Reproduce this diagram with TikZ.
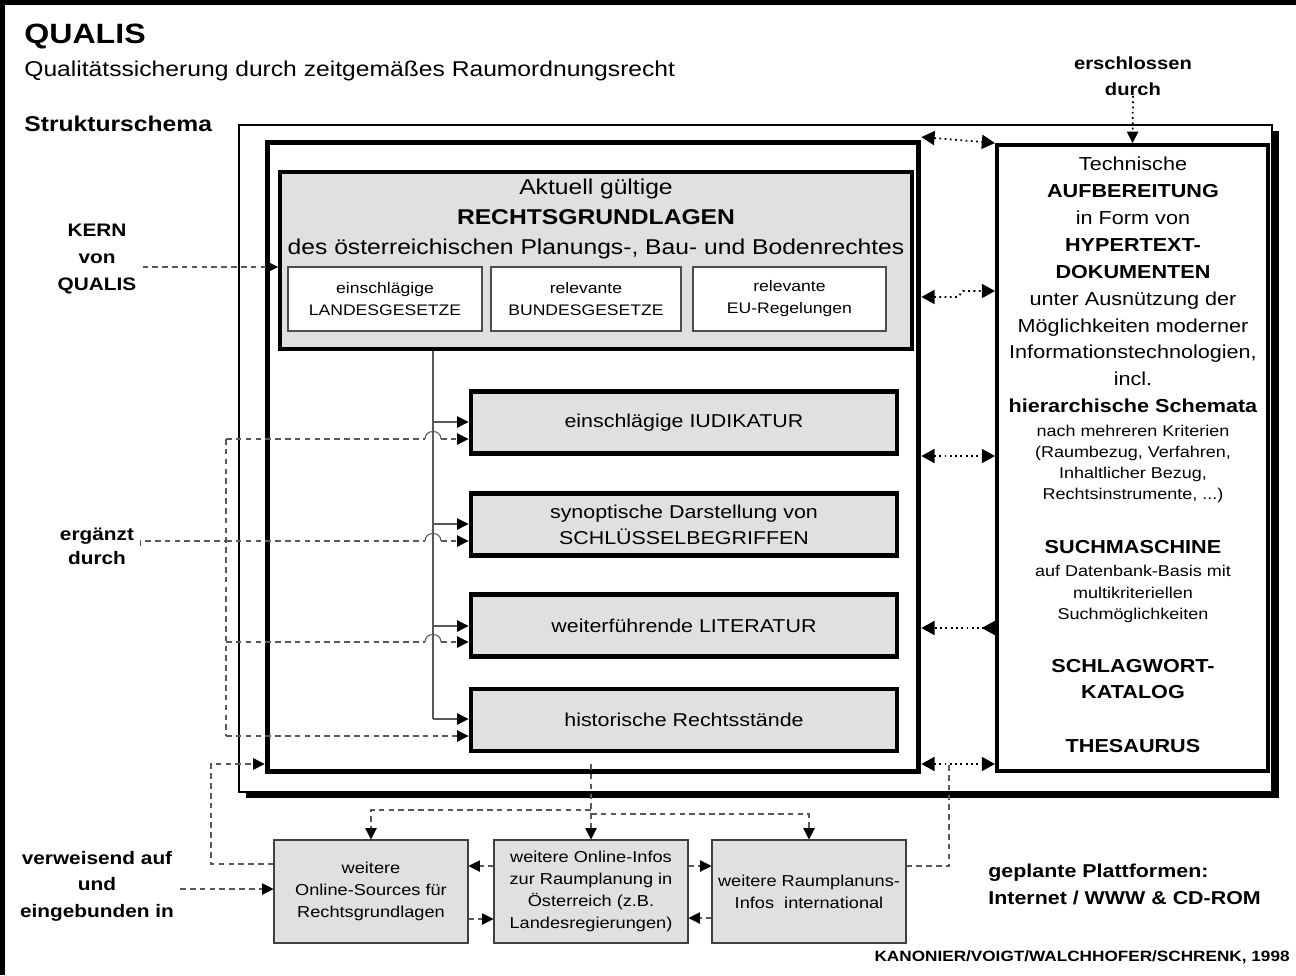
\documentclass[tikz,border=0pt]{standalone}
\usepackage{fontspec}
\setmainfont{Liberation Sans}[FakeStretch=1.15]
\usetikzlibrary{arrows.meta,shadows}
\newcommand\fnt[2]{\fontsize{#1}{#2}\selectfont}

\begin{document}
\begin{tikzpicture}[x=0.02cm,y=-0.02cm,
	pf/.style={-{Triangle[length=6.5pt,width=6.5pt,color=black]}},
	dpf/.style={{Triangle[length=7.5pt,width=8pt,color=black]}-{Triangle[length=7.5pt,width=8pt,color=black]}},
	dsh/.style={draw=black!65,line width=0.6pt,dash pattern=on 3.2pt off 2.4pt},
	dotl/.style={line width=1pt,dotted},
	tree/.style={draw=black!65,line width=0.6pt},
	txt/.style={inner sep=0pt,align=center},
	kasten/.style={draw=black,line width=2.3pt,fill=black!12,inner sep=0pt,align=center},
	sub/.style={draw=black!70,line width=0.6pt,fill=white,inner sep=0pt,align=center,minimum height=1.28cm,font=\fnt{8.7}{12.5}},
	online/.style={draw=black!75,line width=0.6pt,fill=black!12,inner sep=0pt,align=center,minimum width=3.88cm,minimum height=2.06cm,font=\fnt{9}{12.5}},
	zeile/.style={kasten,minimum width=8.54cm,minimum height=1.24cm,font=\fnt{10.6}{14.7}}]
	\useasboundingbox (0,0) rectangle (1296,975);
	\draw[line width=2.8pt] (2.5,975) -- (2.5,2.5) -- (1296,2.5);

	% Titel
	\node[txt,anchor=west,font=\bfseries\fnt{15.9}{18}] (qualis) at (24,36) {QUALIS};
	\node[txt,anchor=west,font=\fnt{12.2}{14}] (untertitel) at (24,71) {Qualitätssicherung durch zeitgemäßes Raumordnungsrecht};
	\node[txt,anchor=west,font=\bfseries\fnt{12.2}{14}] (schema) at (24,124) {Strukturschema};

	% Rahmen
	\fill (246,131) rectangle (1279,798);
	\node[draw,fill=white,line width=0.85pt,minimum width=20.66cm,minimum height=13.34cm] (struk) at (755.5,458.5) {};
	\node[draw,line width=2.8pt,minimum width=13.04cm,minimum height=12.6cm] (rahmen) at (593,457) {};
	\node[draw,line width=2.3pt,minimum width=5.42cm,minimum height=12.52cm] (tech) at (1132.5,458) {};

	% Kern
	\node[kasten,minimum width=12.64cm,minimum height=3.54cm] (rg) at (596,260.5) {};
	\node[txt,font=\fnt{12.2}{17.3}] (rgt) at (596,219) {Aktuell gültige\\\textbf{RECHTSGRUNDLAGEN}\\des österreichischen Planungs-, Bau- und Bodenrechtes};
	\node[sub,minimum width=3.88cm] (lg) at (385,299) {einschlägige\\LANDESGESETZE};
	\node[sub,minimum width=3.8cm] (bg) at (586,299) {relevante\\BUNDESGESETZE};
	\node[sub,minimum width=3.86cm] (eu) at (789.5,299) {relevante\\EU-Regelungen};

	\node[zeile] (iud) at (684,422.5) {einschlägige IUDIKATUR};
	\node[zeile] (syn) at (684,524.5) {synoptische Darstellung von\\SCHLÜSSELBEGRIFFEN};
	\node[zeile] (lit) at (684,625.5) {weiterführende LITERATUR};
	\node[zeile] (his) at (684,720) {historische Rechtsstände};

	% Technische Aufbereitung
	\node[txt,font=\fnt{10.7}{15.3}] (tx1) at (1133,285) {Technische\\\textbf{AUFBEREITUNG}\\in Form von\\\textbf{HYPERTEXT-}\\\textbf{DOKUMENTEN}\\unter Ausnützung der\\Möglichkeiten moderner\\Informationstechnologien,\\incl.\\\textbf{hierarchische Schemata}};
	\node[txt,font=\fnt{8.9}{12.1}] (tx2) at (1133,464) {nach mehreren Kriterien\\(Raumbezug, Verfahren,\\Inhaltlicher Bezug,\\Rechtsinstrumente, ...)};
	\node[txt,font=\bfseries\fnt{10.7}{15.3}] (tx3) at (1133,547) {SUCHMASCHINE};
	\node[txt,font=\fnt{8.9}{12.1}] (tx4) at (1133,594) {auf Datenbank-Basis mit\\multikriteriellen\\Suchmöglichkeiten};
	\node[txt,font=\bfseries\fnt{10.7}{15}] (tx5) at (1133,679) {SCHLAGWORT-\\KATALOG};
	\node[txt,font=\bfseries\fnt{10.7}{15}] (tx6) at (1133,746) {THESAURUS};

	% weitere Quellen
	\node[online] (ob1) at (371,891.5) {weitere\\Online-Sources für\\Rechtsgrundlagen};
	\node[online] (ob2) at (591,891.5) {weitere Online-Infos\\zur Raumplanung in\\Österreich (z.B.\\Landesregierungen)};
	\node[online] (ob3) at (809,891.5) {weitere Raumplanuns-\\Infos~~international};

	% Beschriftungen
	\node[align=center,font=\bfseries\fnt{10.3}{15.3}] (kernlbl) at (97,259) {KERN\\von\\QUALIS};
	\node[align=center,font=\bfseries\fnt{10.3}{13.5}] (ergl) at (97,546) {ergänzt\\durch};
	\node[align=center,font=\bfseries\fnt{10.3}{15}] (verw) at (97,886) {verweisend auf\\und\\eingebunden in};
	\node[txt,font=\bfseries\fnt{10}{15}] (erschl) at (1133,76) {erschlossen\\durch};
	\node[txt,anchor=west,align=left,font=\bfseries\fnt{10.6}{15.3}] (platt) at (988,884) {geplante Plattformen:\\Internet / WWW \& CD-ROM};
	\node[txt,anchor=east,font=\bfseries\fnt{8.5}{10}] (autor) at (1290,957) {KANONIER/VOIGT/WALCHHOFER/SCHRENK, 1998};

	% Baum
	\draw[tree] (rg.south -| 433,0) -- (433,719);
	\foreach \b/\y in {iud/422,syn/524,lit/626,his/719}
		\draw[tree,pf] (433,\y) -- (\b.west |- 0,\y);

	% ergaenzt durch
	\draw[dsh] (226,439) -- (226,736);
	\draw[dsh] (ergl.east |- 0,546) -- (ergl.east |- 0,541) -- (226,541);
	\foreach \b/\y in {iud/439,syn/541,lit/642}{
		\draw[dsh] (226,\y) -- (425,\y);
		\draw[tree] (425,\y) .. controls (425,\y-10) and (441,\y-10) .. (441,\y);
		\draw[dsh,pf] (441,\y) -- (\b.west |- 0,\y);
	}
	\draw[dsh,pf] (226,736) -- (his.west |- 0,736);
	\draw[dsh,pf] (kernlbl.east |- 0,267) -- (rg.west |- 0,267);

	% erschlossen durch
	\draw[dotl,pf] (erschl.south) -- (tech.north);
	\draw[dotl,dpf] (rahmen.east |- 0,137) -- (tech.west |- 0,143);
	\draw[dotl,dpf] (rahmen.east |- 0,297) -- (958,297) -- (963,291) -- (tech.west |- 0,291);
	\draw[dotl,dpf] (rahmen.east |- 0,456) -- (tech.west |- 0,456);
	\draw[dotl,{Triangle[reversed,length=7.5pt,width=8pt]}-{Triangle[length=7.5pt,width=8pt]}] (tech.west |- 0,628) -- (rahmen.east |- 0,628);
	\draw[dotl,dpf] (rahmen.east |- 0,764) -- (tech.west |- 0,764);

	% verweisend auf
	\draw[dsh,pf] (verw.east |- 0,889) -- (ob1.west |- 0,889);
	\draw[dsh,pf] (ob1.west |- 0,864) -- (211,864) -- (211,764) -- (rahmen.west |- 0,764);
	\draw[dsh,pf] (ob2.north |- 0,764) -- (ob2.north);
	\draw[dsh,pf] (ob2.north |- 0,810) -- (ob1.north |- 0,810) -- (ob1.north);
	\draw[dsh,pf] (ob2.north |- 0,814) -- (ob3.north |- 0,814) -- (ob3.north);
	\draw[dsh,pf] (ob2.west |- 0,866) -- (ob1.east |- 0,866);
	\draw[dsh,pf] (ob1.east |- 0,919) -- (ob2.west |- 0,919);
	\draw[dsh,pf] (ob2.east |- 0,866) -- (ob3.west |- 0,866);
	\draw[dsh,pf] (ob3.west |- 0,918) -- (ob2.east |- 0,918);
	\draw[dsh] (ob3.east |- 0,866) -- (949,866) -- (949,764);
\end{tikzpicture}
\end{document}
